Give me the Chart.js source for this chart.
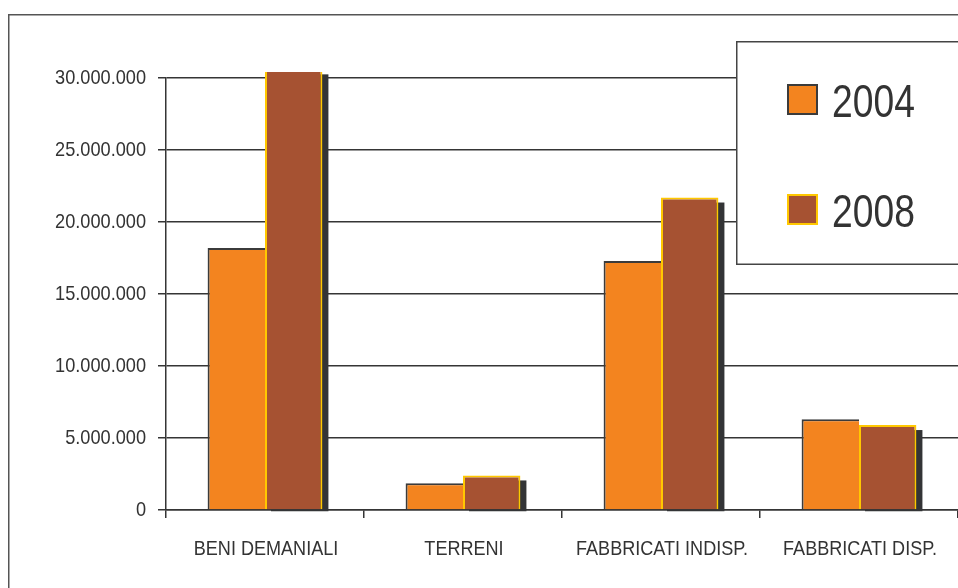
<!DOCTYPE html>
<html>
<head>
<meta charset="utf-8">
<script src="https://cdn.jsdelivr.net/npm/chart.js@4.4.1/dist/chart.umd.min.js"></script>
<style>
  html, body { margin: 0; padding: 0; background: #ffffff; }
  #wrap { width: 958px; height: 588px; position: relative; }
</style>
</head>
<body>
<div id="wrap"><canvas id="c" width="958" height="588"></canvas></div>
<script>
// Patrimonio per tipologia, valori in euro
const categories = ['BENI DEMANIALI', 'TERRENI', 'FABBRICATI INDISP.', 'FABBRICATI DISP.'];
const seriesNames = ['2004', '2008'];
const values2004 = [18200000, 1850000, 17300000, 6300000];
const values2008 = [30600000, 2400000, 21700000, 5900000];
const yTickValues = [0, 5000000, 10000000, 15000000, 20000000, 25000000, 30000000];
const yTickLabels = ['0', '5.000.000', '10.000.000', '15.000.000', '20.000.000', '25.000.000', '30.000.000'];

const FAMILY = '"Liberation Sans", Arial, Helvetica, sans-serif';
const INK = '#333333';
const LINE = '#353535';

// draw a horizontally condensed string at (x, baseline y)
function condensedText(ctx, text, x, y, size, squeeze, align) {
  ctx.save();
  ctx.translate(x, y);
  ctx.scale(squeeze, 1);
  ctx.font = size + 'px ' + FAMILY;
  ctx.fillStyle = INK;
  ctx.textAlign = align;
  ctx.textBaseline = 'alphabetic';
  ctx.fillText(text, 0, 0);
  ctx.restore();
}

// outer frame of the chart object
const framePlugin = {
  id: 'frame',
  beforeDraw(chart) {
    const ctx = chart.ctx;
    ctx.save();
    ctx.strokeStyle = '#555555';
    ctx.lineWidth = 1.5;
    ctx.strokeRect(8.75, 14.75, 1200, 1200);
    ctx.restore();
  }
};

// hard drop shadow behind the right-hand bar of each group
const shadowPlugin = {
  id: 'barShadow',
  beforeDatasetsDraw(chart) {
    const ctx = chart.ctx;
    const a = chart.chartArea;
    const last = chart.data.datasets.length - 1;
    ctx.save();
    ctx.beginPath();
    ctx.rect(0, a.top - 6, chart.width, chart.height);
    ctx.clip();
    ctx.fillStyle = '#333436';
    chart.getDatasetMeta(last).data.forEach(bar => {
      const p = bar.getProps(['x', 'y', 'base', 'width'], true);
      ctx.fillRect(p.x - p.width / 2 + 6, p.y + 5, p.width, p.base - p.y - 3);
    });
    ctx.restore();
  }
};

// axis labels in a narrow face
const axisLabelPlugin = {
  id: 'axisLabels',
  afterDraw(chart) {
    const ctx = chart.ctx;
    const xs = chart.scales.x;
    const ys = chart.scales.y;
    yTickValues.forEach((v, i) => {
      const y = ys.getPixelForValue(v);
      condensedText(ctx, yTickLabels[i], 146, y + 5.5, 21, 0.865, 'right');
    });
    categories.forEach((c, i) => {
      const x = xs.getPixelForValue(i);
      condensedText(ctx, c, x + 1, 555, 21, 0.86, 'center');
    });
  }
};

// boxed legend in the upper right corner
const legendPlugin = {
  id: 'legendBox',
  afterDraw(chart) {
    const ctx = chart.ctx;
    ctx.save();
    ctx.fillStyle = '#ffffff';
    ctx.fillRect(737, 42, 400, 222);
    ctx.strokeStyle = '#444444';
    ctx.lineWidth = 1.5;
    ctx.strokeRect(736.75, 41.75, 400, 222.5);
    ctx.restore();
    chart.data.datasets.forEach((ds, i) => {
      const top = 84 + i * 110;
      ctx.save();
      ctx.fillStyle = ds.legendEdge;
      ctx.fillRect(787, top, 31, 31);
      ctx.fillStyle = ds.backgroundColor;
      ctx.fillRect(789, top + 2, 27, 27);
      ctx.restore();
      condensedText(ctx, ds.label, 832, top + 33, 46, 0.81, 'left');
    });
  }
};

new Chart(document.getElementById('c'), {
  type: 'bar',
  data: {
    labels: categories,
    datasets: [
      {
        label: seriesNames[0],
        data: values2004,
        backgroundColor: '#F3841F',
        borderColor: '#3b3b3b',
        legendEdge: '#3b3b3b',
        borderWidth: { top: 2, left: 2, right: 0, bottom: 0 },
        borderSkipped: false,
        clip: { left: false, top: 6, right: false, bottom: false }
      },
      {
        label: seriesNames[1],
        data: values2008,
        backgroundColor: '#A65232',
        borderColor: '#FFC800',
        legendEdge: '#FFC800',
        borderWidth: 2,
        clip: { left: false, top: 6, right: false, bottom: false }
      }
    ]
  },
  options: {
    responsive: false,
    animation: false,
    devicePixelRatio: 1,
    layout: { padding: { left: 0, right: 0, top: 78, bottom: 0 } },
    datasets: { bar: { barPercentage: 1, categoryPercentage: 0.58 } },
    plugins: {
      legend: { display: false },
      tooltip: { enabled: false }
    },
    scales: {
      x: {
        grid: { display: true, drawOnChartArea: false, offset: true, color: LINE, lineWidth: 1.5, tickLength: 8 },
        border: { display: true, color: LINE, width: 1.5 },
        ticks: { display: false },
        afterFit(scale) { scale.height = 78; }
      },
      y: {
        min: 0,
        max: 30000000,
        afterBuildTicks(scale) { scale.ticks = yTickValues.map(v => ({ value: v })); },
        grid: { color: LINE, lineWidth: 1.5, tickLength: 8 },
        border: { display: true, color: LINE, width: 1.5 },
        ticks: { display: false },
        afterFit(scale) { scale.width = 166; }
      }
    }
  },
  plugins: [framePlugin, shadowPlugin, axisLabelPlugin, legendPlugin]
});
</script>
</body>
</html>
